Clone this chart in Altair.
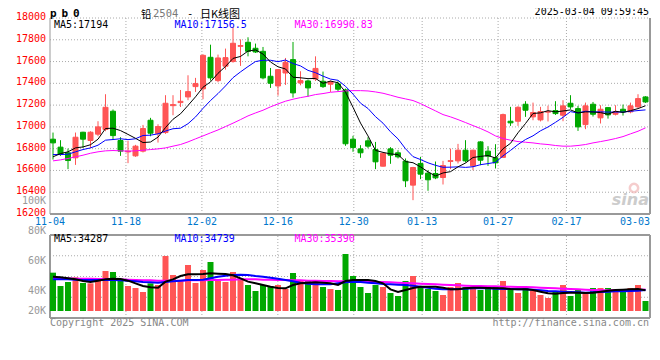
import altair as alt
import pandas as pd

# ---------------- values ----------------
opens = [16887, 16814, 16762, 16716, 16951, 16875, 16933, 16976, 17144, 16875,
         16770, 16734, 16777, 17061, 16939, 16948, 17195, 17223, 17275, 17370,
         17349, 17639, 17425, 17557, 17600, 17740, 17777, 17722, 17694, 17465,
         17376, 17495, 17618, 17404, 17422, 17440, 17419, 17392, 17395, 17340,
         16887, 16798, 16872, 16792, 16639, 16798, 16762, 16685, 16465, 16664,
         16575, 16572, 16535, 16683, 16688, 16786, 16642, 16862, 16777, 16716,
         16720, 17052, 17052, 17208, 17092, 17064, 17135, 17150, 17107, 17217,
         17168, 17021, 17208, 17083, 17177, 17116, 17162, 17138, 17184, 17275]
highs = [16948, 16878, 16801, 16948, 16955, 16960, 17052, 17300, 17160, 16905,
         16872, 16835, 17018, 17083, 17024, 17291, 17291, 17339, 17474, 17450,
         17667, 17755, 17664, 17719, 17917, 17804, 17823, 17765, 17734, 17541,
         17530, 17633, 17780, 17511, 17434, 17648, 17508, 17425, 17419, 17352,
         16918, 16832, 16905, 16862, 16762, 16814, 16786, 16710, 16633, 16725,
         16602, 16682, 16688, 16801, 16844, 16878, 16790, 16868, 16823, 16841,
         17122, 17184, 17190, 17236, 17223, 17184, 17195, 17236, 17245, 17291,
         17193, 17223, 17229, 17199, 17180, 17199, 17205, 17223, 17300, 17282]
lows = [16700, 16734, 16612, 16651, 16807, 16804, 16914, 16960, 16881, 16734,
        16667, 16725, 16765, 16914, 16856, 16936, 17107, 17183, 17245, 17321,
        17254, 17425, 17410, 17526, 17590, 17560, 17648, 17679, 17437, 17358,
        17287, 17385, 17269, 17382, 17278, 17422, 17358, 17321, 17327, 16826,
        16771, 16716, 16804, 16612, 16636, 16661, 16710, 16447, 16327, 16520,
        16413, 16520, 16471, 16612, 16664, 16673, 16602, 16648, 16642, 16618,
        16715, 17009, 17009, 17092, 17061, 17050, 17050, 17110, 17052, 17165,
        16963, 16979, 17095, 17031, 17076, 17105, 17104, 17125, 17174, 17220]
closes = [16853, 16746, 16691, 16905, 16887, 16951, 17000, 17180, 16920, 16777,
          16777, 16823, 16985, 16942, 17003, 17217, 17205, 17235, 17324, 17398,
          17657, 17450, 17633, 17636, 17768, 17747, 17694, 17688, 17450, 17401,
          17526, 17593, 17312, 17425, 17358, 17537, 17370, 17413, 17346, 16845,
          16810, 16762, 16823, 16679, 16758, 16740, 16725, 16505, 16627, 16566,
          16514, 16532, 16645, 16690, 16786, 16688, 16786, 16694, 16731, 16670,
          17113, 17037, 17180, 17153, 17132, 17141, 17141, 17122, 17193, 17184,
          17000, 17193, 17116, 17162, 17110, 17141, 17138, 17193, 17260, 17229]
ma5 = [16725, 16755, 16771, 16807, 16816, 16836, 16887, 16985, 16988, 16966,
       16931, 16895, 16856, 16861, 16906, 16994, 17070, 17120, 17197, 17276,
       17364, 17413, 17492, 17555, 17629, 17647, 17696, 17707, 17669, 17596,
       17552, 17532, 17456, 17451, 17443, 17445, 17400, 17421, 17405, 17320,
       17180, 17035, 16917, 16784, 16766, 16752, 16745, 16681, 16671, 16633,
       16587, 16549, 16577, 16589, 16633, 16668, 16719, 16729, 16737, 16714,
       16799, 16849, 16946, 17031, 17123, 17129, 17149, 17138, 17146, 17156,
       17128, 17138, 17137, 17131, 17116, 17144, 17133, 17149, 17168, 17194]
ma10 = [16746, 16746, 16749, 16771, 16792, 16807, 16832, 16878, 16884, 16891,
        16883, 16891, 16921, 16924, 16936, 16962, 16983, 16988, 17029, 17091,
        17170, 17242, 17306, 17376, 17452, 17505, 17554, 17600, 17612, 17612,
        17599, 17614, 17582, 17560, 17519, 17498, 17466, 17439, 17428, 17373,
        17301, 17218, 17169, 17094, 17034, 16955, 16890, 16799, 16727, 16700,
        16670, 16647, 16629, 16630, 16633, 16628, 16634, 16653, 16663, 16674,
        16734, 16784, 16838, 16884, 16918, 16964, 16999, 17042, 17088, 17140,
        17128, 17144, 17138, 17138, 17136, 17136, 17136, 17143, 17150, 17156]
ma30 = [16688, 16697, 16710, 16725, 16740, 16758, 16771, 16780, 16783, 16780,
        16777, 16780, 16786, 16792, 16798, 16807, 16823, 16838, 16862, 16890,
        16917, 16945, 16972, 17003, 17034, 17067, 17101, 17128, 17153, 17184,
        17211, 17236, 17254, 17269, 17281, 17297, 17306, 17318, 17324, 17330,
        17333, 17333, 17330, 17321, 17309, 17291, 17272, 17257, 17242, 17214,
        17180, 17147, 17113, 17092, 17067, 17040, 17012, 16985, 16954, 16917,
        16893, 16878, 16865, 16859, 16853, 16844, 16838, 16829, 16823, 16823,
        16829, 16838, 16853, 16865, 16878, 16893, 16911, 16936, 16960, 16991]
volumes = [63250, 41250, 47850, 55550, 46200, 45650, 52250, 66000, 64350, 50600,
           41250, 37950, 31350, 45650, 42900, 90750, 59400, 49500, 75900, 46200,
           67650, 80850, 49500, 47850, 64350, 54450, 42900, 33000, 42900, 41250,
           42900, 36300, 62700, 49500, 51150, 49500, 39600, 36300, 34650, 94050,
           57750, 39600, 29700, 42900, 39600, 29700, 24750, 49500, 57750, 41250,
           36300, 33000, 26400, 39600, 46200, 39600, 42900, 34650, 39600, 39600,
           49500, 37950, 29700, 39600, 33000, 26400, 21450, 33000, 42900, 24750,
           34650, 31350, 37950, 37950, 37950, 36300, 36300, 37950, 42900, 16500]
vol_ma5 = [56650, 55550, 53900, 52250, 49500, 47850, 50050, 52250, 53350, 52800,
           50050, 45650, 41250, 39050, 38500, 48400, 52250, 57750, 60500, 60500,
           61050, 62150, 61600, 61050, 58850, 53900, 48400, 45650, 42900, 40150,
           37950, 37400, 42900, 45650, 46750, 47300, 46750, 45650, 42900, 49500,
           51150, 51150, 51150, 49500, 45650, 35750, 31350, 34650, 37950, 40150,
           40150, 40150, 38500, 35750, 35750, 37400, 38500, 38500, 37950, 37400,
           37400, 36300, 35750, 35750, 34650, 31900, 29150, 28600, 29700, 30250,
           30250, 29700, 30250, 31900, 33550, 34650, 35200, 35750, 36300, 34287]
vol_ma10 = [52250, 52250, 52250, 51700, 51150, 51150, 51150, 51150, 51150, 50600,
            50050, 48950, 47850, 47300, 46750, 47850, 48950, 50050, 51150, 51150,
            51700, 53900, 56650, 58300, 59400, 59950, 59400, 57750, 56650, 55000,
            53350, 51150, 48950, 46750, 45100, 44000, 44000, 44000, 45650, 47300,
            48400, 47850, 46750, 45650, 44550, 44000, 43450, 42900, 41800, 40150,
            38500, 36850, 35750, 35750, 36300, 36850, 37400, 37400, 37400, 36850,
            36300, 36300, 35750, 35750, 35200, 34100, 33000, 32450, 31900, 31350,
            30800, 30250, 30800, 31350, 31900, 32450, 32450, 33000, 33550, 34739]
vol_ma30 = [53900, 53900, 53900, 53350, 53350, 53350, 52800, 52800, 52250, 52250,
            51700, 51150, 50600, 50600, 50050, 50050, 50050, 50050, 50600, 50600,
            50600, 51150, 51150, 51700, 51700, 52250, 52250, 52250, 51700, 51700,
            51150, 51150, 50600, 50600, 50050, 50050, 49500, 49500, 48950, 48950,
            48950, 48400, 48400, 47850, 47850, 47300, 46750, 46200, 45650, 45100,
            44550, 44000, 43450, 42900, 42350, 41800, 41250, 41250, 40700, 40700,
            40150, 40150, 39600, 39600, 39050, 38500, 37950, 37400, 36850, 36300,
            35750, 35200, 34650, 34100, 34100, 34100, 34100, 34100, 34650, 35390]

date_ticks = ["11-04", "11-18", "12-02", "12-16", "12-30", "01-13", "01-27", "02-17", "03-03"]
date_tick_index = [0, 10, 20, 30, 40, 49, 59, 68, 78]
price_ticks = [18000, 17800, 17600, 17400, 17200, 17000, 16800, 16600, 16400, 16200]
vol_ticks = [100000, 80000, 60000, 40000, 20000]
vol_tick_labels = ["100K", "80K", "60K", "40K", "20K"]
price_legend = ["MA5:17194", "MA10:17156.5", "MA30:16990.83"]
vol_legend = ["MA5:34287", "MA10:34739", "MA30:35390"]

# ---------------- layout / style ----------------
W, H = 600, 300
N = len(closes)
PRICE_H = 196.0
P_TOP, P_BOT = price_ticks[0], price_ticks[-1]
P_LO = P_TOP - (P_TOP - P_BOT) * H / PRICE_H
VOL_ZERO_PX = 293.0
VOL_PER_PX = 1650.0
V_HI = VOL_ZERO_PX * VOL_PER_PX
V_LO = -(H - VOL_ZERO_PX) * VOL_PER_PX
V_PANEL_TOP = (VOL_ZERO_PX - 217.0) * VOL_PER_PX

RED, GREEN = "#ff5555", "#00a800"
GRID, FRAME = "#aaaaaa", "#999999"
MONO = "DejaVu Sans Mono"
CJK = "Noto Sans CJK SC"
INSET = 0.5 / (W / N)

xS = alt.Scale(domain=[0, N], nice=False, zero=False)
yP = alt.Scale(domain=[P_LO, P_TOP], nice=False, zero=False)
yV = alt.Scale(domain=[V_LO, V_HI], nice=False, zero=False)
yL = alt.Scale(domain=[20000, 40000, 100000], range=[293, 273, 183], nice=False, zero=False)

df = pd.DataFrame({"i": list(range(N)), "open": opens, "high": highs, "low": lows,
                   "close": closes, "vol": volumes, "ma5": ma5, "ma10": ma10, "ma30": ma30,
                   "vma5": vol_ma5, "vma10": vol_ma10, "vma30": vol_ma30})
df["dir"] = ["up" if c >= o else "down" for o, c in zip(opens, closes)]
df["bx0"] = df["i"] + INSET
df["bx1"] = df["i"] + 0.8 - INSET
df["vx1"] = df["i"] + 0.8
df["xc"] = df["i"] + 0.4
df["zero"] = 0

col = alt.Color("dir:N", scale=alt.Scale(domain=["up", "down"], range=[RED, GREEN]), legend=None)
stk = alt.Stroke("dir:N", scale=alt.Scale(domain=["up", "down"], range=[RED, GREEN]), legend=None)


def X(f):
    return alt.X(f, type="quantitative", scale=xS, axis=None)


def YP(f):
    return alt.Y(f, type="quantitative", scale=yP, axis=None)


def YV(f):
    return alt.Y(f, type="quantitative", scale=yV, axis=None)


grid_x = [k * N / (N - 1) for k in date_tick_index]

# ---------------- price panel ----------------
hg = pd.DataFrame({"y": price_ticks[:-1], "x0": 0, "x1": N})
p_hgrid = alt.Chart(hg).mark_rule(color=GRID, strokeDash=[1, 2]).encode(
    x=X("x0"), x2="x1", y=YP("y"))
vg = pd.DataFrame({"gx": grid_x[1:-1], "y0": P_BOT, "y1": P_TOP})
p_vgrid = alt.Chart(vg).mark_rule(color=GRID, strokeDash=[1, 2]).encode(
    x=X("gx"), y=YP("y0"), y2="y1")
pl = pd.DataFrame({"x": [0], "y0": [P_BOT], "y1": [P_TOP]})
p_left = alt.Chart(pl).mark_rule(color=FRAME, strokeWidth=1).encode(x=X("x"), y=YP("y0"), y2="y1")
pr = pd.DataFrame({"x": [N], "y0": [P_BOT], "y1": [P_TOP]})
p_right = alt.Chart(pr).mark_rule(color=FRAME, strokeWidth=2).encode(x=X("x"), y=YP("y0"), y2="y1")
pbm = pd.DataFrame({"x0": [0], "x1": [N], "y": [P_BOT]})
p_bottom = alt.Chart(pbm).mark_rule(color=FRAME, strokeWidth=2).encode(x=X("x0"), x2="x1", y=YP("y"))

wick = alt.Chart(df).mark_rule(strokeWidth=1).encode(x=X("xc"), y=YP("low"), y2="high", color=col)
body = alt.Chart(df).mark_rect(strokeWidth=1).encode(
    x=X("bx0"), x2="bx1", y=YP("open"), y2="close", color=col, stroke=stk)
l30 = alt.Chart(df).mark_line(color="#ff00ff", strokeWidth=1).encode(x=X("xc"), y=YP("ma30"))
l10 = alt.Chart(df).mark_line(color="#0000ff", strokeWidth=1).encode(x=X("xc"), y=YP("ma10"))
l5 = alt.Chart(df).mark_line(color="#000000", strokeWidth=1).encode(x=X("xc"), y=YP("ma5"))

pt = pd.DataFrame({"v": price_ticks, "t": [str(v) for v in price_ticks]})
p_labels = alt.Chart(pt).mark_text(align="right", baseline="middle", dy=-1, font=MONO,
                                   fontSize=10, color="#ff0000").encode(
    x=alt.value(-4), y=YP("v"), text="t:N")

dt = pd.DataFrame({"gx": grid_x[:-1], "t": date_ticks[:-1]})
d_labels = alt.Chart(dt).mark_text(align="center", baseline="middle", font=MONO, fontSize=10,
                                   color="#0077cc").encode(x=X("gx"), y=alt.value(203.5), text="t:N")
dt2 = pd.DataFrame({"gx": [N], "t": date_ticks[-1:]})
d_last = alt.Chart(dt2).mark_text(align="right", baseline="middle", font=MONO, fontSize=10,
                                  color="#0077cc").encode(x=X("gx"), y=alt.value(203.5), text="t:N")

price = alt.layer(p_hgrid, p_vgrid, p_left, p_right, p_bottom, wick, body, l30, l10, l5,
                  p_labels, d_labels, d_last)

# ---------------- volume panel ----------------
vvg = pd.DataFrame({"gx": grid_x[1:-1], "y0": V_LO, "y1": V_PANEL_TOP})
v_vgrid = alt.Chart(vvg).mark_rule(color=GRID, strokeDash=[1, 2]).encode(x=X("gx"), y=YV("y0"), y2="y1")
vhg = pd.DataFrame({"y": [V_LO + k * (V_PANEL_TOP - V_LO) / 4 for k in (1, 2, 3)], "x0": 0, "x1": N})
v_hgrid = alt.Chart(vhg).mark_rule(color=GRID, strokeDash=[1, 2]).encode(x=X("x0"), x2="x1", y=YV("y"))
vb = pd.DataFrame({"x0": [0, 0, 0, N], "x1": [N, N, 0, N],
                   "y0": [V_PANEL_TOP, V_LO, V_LO, V_LO], "y1": [V_PANEL_TOP, V_LO, V_PANEL_TOP, V_PANEL_TOP]})
v_frame = alt.Chart(vb).mark_rule(color=FRAME, strokeWidth=2).encode(
    x=X("x0"), x2="x1", y=YV("y0"), y2="y1")
bars = alt.Chart(df).mark_rect().encode(x=X("i"), x2="vx1", y=YV("zero"), y2="vol", color=col)
vl30 = alt.Chart(df).mark_line(color="#ff00ff", strokeWidth=2).encode(x=X("xc"), y=YV("vma30"))
vl10 = alt.Chart(df).mark_line(color="#0000ff", strokeWidth=2).encode(x=X("xc"), y=YV("vma10"))
vl5 = alt.Chart(df).mark_line(color="#000000", strokeWidth=2).encode(x=X("xc"), y=YV("vma5"))
volume = alt.layer(v_vgrid, v_hgrid, v_frame, bars, vl30, vl10, vl5)

vt = pd.DataFrame({"v": vol_ticks, "t": vol_tick_labels})
v_labels = alt.Chart(vt).mark_text(align="right", baseline="middle", font=MONO, fontSize=10,
                                   color="#999999").encode(
    x=alt.value(-4), y=alt.Y("v:Q", scale=yL, axis=None), text="t:N")


# ---------------- texts ----------------
def txt(s, x, y, color="#000000", font=MONO, size=10, align="left", baseline="middle", weight="normal",
        style="normal"):
    return alt.Chart(pd.DataFrame({"t": [s]})).mark_text(
        align=align, baseline=baseline, font=font, fontSize=size, color=color,
        fontWeight=weight, fontStyle=style).encode(x=alt.value(x), y=alt.value(y), text="t:N")


logo = alt.Chart(pd.DataFrame({"t": [0]})).mark_point(
    shape="circle", filled=False, color="#f2b8b8", size=70, strokeWidth=2.5).encode(
    x=alt.value(584), y=alt.value(170))

texts = [
    txt("p", 0, -1.5, size=11, weight="bold", baseline="alphabetic"),
    txt("b", 11.5, -1.5, size=11, weight="bold", baseline="alphabetic"),
    txt("0", 23, -1.5, size=11, weight="bold", baseline="alphabetic"),
    txt("铅", 91, 0, font=CJK, size=10.5, baseline="alphabetic"),
    txt("2504", 103, -1, color="#777777", size=10.5, baseline="alphabetic"),
    txt("-", 137, -1.5, size=10.5, baseline="alphabetic"),
    txt("日K线图", 150, 0, font=CJK, size=11, baseline="alphabetic"),
    txt("2025-03-04 09:59:45", 599, -5.8, align="right"),
    txt(price_legend[0], 4, 6.5),
    txt(price_legend[1], 124.5, 6.5, color="#0000ff"),
    txt(price_legend[2], 244.5, 6.5, color="#ff00ff"),
    txt(vol_legend[0], 4, 221),
    txt(vol_legend[1], 124.5, 221, color="#0000ff"),
    txt(vol_legend[2], 244.5, 221, color="#ff00ff"),
    txt("Copyright 2025 SINA.COM", 0, 305, color="#888888"),
    txt("http://finance.sina.com.cn", 599, 305, color="#888888", align="right"),
    txt("sina", 599, 182, color="#cccccc", font="DejaVu Sans", size=16, align="right",
        weight="bold", style="italic"),
]

chart = alt.layer(price, volume, v_labels, logo, *texts).resolve_scale(y="independent").properties(
    width=W, height=H,
    autosize=alt.AutoSizeParams(type="none"),
    padding={"left": 42, "top": 10, "right": 2, "bottom": 14},
    background="white",
).configure_view(strokeWidth=0)

chart.save("out.html", embed_options={"renderer": "svg", "actions": False})
